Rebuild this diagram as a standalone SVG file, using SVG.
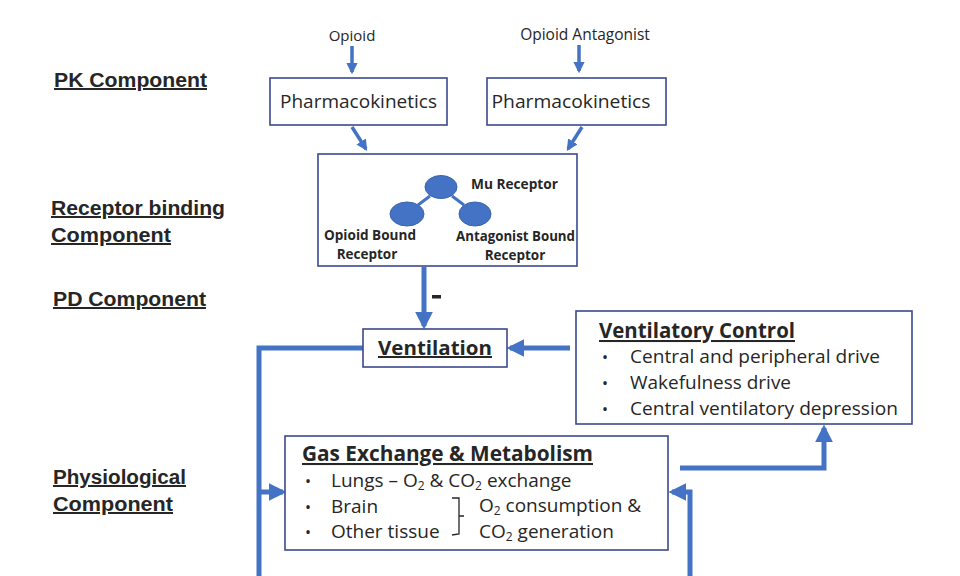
<svg xmlns="http://www.w3.org/2000/svg" width="960" height="576" viewBox="0 0 960 576">
<style>
.box{fill:#fff;stroke:#3b4a8c;stroke-width:1.6}
.t{font-family:"Open Sans","Noto Sans",sans-serif;fill:#262626}
.lbl{font-family:"Liberation Sans",Arial,sans-serif;font-weight:bold;fill:#262626;font-size:20px;text-decoration:underline}
.b{font-weight:bold}
.thin{stroke:#4472c4;stroke-width:3.5;fill:none}
.thick{stroke:#4472c4;stroke-width:5;fill:none}
.ell{fill:#4472c4;stroke:#3a63ad;stroke-width:1}
</style>
<defs>
<marker id="ah" viewBox="0 0 10 10" refX="8" refY="5" markerWidth="3.2" markerHeight="3.2" orient="auto" markerUnits="strokeWidth"><path d="M0,0 L10,5 L0,10 z" fill="#4472c4"/></marker>
<marker id="ahT" viewBox="0 0 10 10" refX="8" refY="5" markerWidth="3.6" markerHeight="3.6" orient="auto" markerUnits="strokeWidth"><path d="M0,0 L10,5 L0,10 z" fill="#4472c4"/></marker>
</defs>
<rect width="960" height="576" fill="#fff"/>

<g id="labels">
<text class="lbl" x="54" y="87" textLength="153" lengthAdjust="spacingAndGlyphs">PK Component</text>
<text class="lbl" x="51" y="215" textLength="174" lengthAdjust="spacingAndGlyphs">Receptor binding</text>
<text class="lbl" x="51" y="242" textLength="120" lengthAdjust="spacingAndGlyphs">Component</text>
<text class="lbl" x="53" y="306" textLength="153" lengthAdjust="spacingAndGlyphs">PD Component</text>
<text class="lbl" x="53" y="484" textLength="133" lengthAdjust="spacingAndGlyphs">Physiological</text>
<text class="lbl" x="53" y="511" textLength="120" lengthAdjust="spacingAndGlyphs">Component</text>
</g>

<g id="inputs">
<text class="t" x="352" y="41" font-size="15" text-anchor="middle">Opioid</text>
<text class="t" x="585" y="40" font-size="15.5" text-anchor="middle">Opioid Antagonist</text>
</g>

<g id="connectors">
<line class="thin" x1="352" y1="46" x2="352" y2="72" marker-end="url(#ah)"/>
<line class="thin" x1="579" y1="45" x2="579" y2="71" marker-end="url(#ah)"/>
<line class="thin" x1="352" y1="127" x2="366" y2="149" marker-end="url(#ah)"/>
<line class="thin" x1="582" y1="127" x2="568" y2="149" marker-end="url(#ah)"/>
<line class="thick" x1="424" y1="267" x2="424" y2="326" marker-end="url(#ahT)"/>
<polyline class="thick" points="363,348 259,348 259,576"/>
<line class="thick" x1="259" y1="492" x2="283" y2="492" marker-end="url(#ahT)"/>
<line class="thick" x1="570" y1="348" x2="510" y2="348" marker-end="url(#ahT)"/>
<polyline class="thick" points="680,468 824,468 824,428" marker-end="url(#ahT)"/>
<polyline class="thick" points="690,576 690,492 672,492" marker-end="url(#ahT)"/>
<rect x="432" y="295" width="9" height="3.5" fill="#262626"/>
</g>

<g id="pk1">
<rect class="box" x="270" y="78" width="177" height="47"/>
<text class="t" x="358.5" y="108" font-size="18.5" text-anchor="middle" textLength="157" lengthAdjust="spacingAndGlyphs">Pharmacokinetics</text>
</g>
<g id="pk2">
<rect class="box" x="487" y="78" width="179" height="47"/>
<text class="t" x="571" y="108" font-size="18.5" text-anchor="middle" textLength="159" lengthAdjust="spacingAndGlyphs">Pharmacokinetics</text>
</g>

<g id="receptor">
<rect class="box" x="318" y="154" width="259" height="112"/>
<line x1="430" y1="196" x2="418" y2="205" stroke="#4472c4" stroke-width="3"/>
<line x1="452" y1="196" x2="464" y2="205" stroke="#4472c4" stroke-width="3"/>
<ellipse class="ell" cx="441" cy="187" rx="16" ry="11.5"/>
<ellipse class="ell" cx="407" cy="214" rx="17" ry="12"/>
<ellipse class="ell" cx="475" cy="214" rx="16" ry="12"/>
<text class="t b" x="471" y="189" font-size="13.5" textLength="87" lengthAdjust="spacingAndGlyphs">Mu Receptor</text>
<text class="t b" x="370" y="240" font-size="13.5" text-anchor="middle" textLength="92" lengthAdjust="spacingAndGlyphs">Opioid Bound</text>
<text class="t b" x="367" y="259" font-size="13.5" text-anchor="middle">Receptor</text>
<text class="t b" x="515.5" y="241" font-size="13.5" text-anchor="middle" textLength="119" lengthAdjust="spacingAndGlyphs">Antagonist Bound</text>
<text class="t b" x="515" y="260" font-size="13.5" text-anchor="middle">Receptor</text>
</g>

<g id="ventilation">
<rect class="box" x="363" y="329" width="144" height="38"/>
<text class="t b" x="435" y="355" font-size="20" text-anchor="middle" text-decoration="underline" textLength="114" lengthAdjust="spacingAndGlyphs">Ventilation</text>
</g>

<g id="ventilatory-control">
<rect class="box" x="576" y="311" width="336" height="113"/>
<text class="t b" x="599" y="338" font-size="20.5" text-decoration="underline" textLength="196" lengthAdjust="spacingAndGlyphs">Ventilatory Control</text>
<text class="t" x="602" y="363" font-size="16">•</text>
<text class="t" x="630" y="363" font-size="18.5" textLength="250" lengthAdjust="spacingAndGlyphs">Central and peripheral drive</text>
<text class="t" x="602" y="389" font-size="16">•</text>
<text class="t" x="630" y="389" font-size="18.5" textLength="161" lengthAdjust="spacingAndGlyphs">Wakefulness drive</text>
<text class="t" x="602" y="415" font-size="16">•</text>
<text class="t" x="630" y="415" font-size="18.5" textLength="268" lengthAdjust="spacingAndGlyphs">Central ventilatory depression</text>
</g>

<g id="gas-exchange">
<rect class="box" x="285" y="436" width="383" height="114"/>
<text class="t b" x="302" y="461" font-size="20.5" text-decoration="underline" textLength="291" lengthAdjust="spacingAndGlyphs">Gas Exchange &amp; Metabolism</text>
<text class="t" x="305" y="487" font-size="16">•</text>
<text class="t" x="331" y="487" font-size="19">Lungs – O<tspan font-size="12" dy="3">2</tspan><tspan dy="-3"> &amp; CO</tspan><tspan font-size="12" dy="3">2</tspan><tspan dy="-3"> exchange</tspan></text>
<text class="t" x="305" y="513" font-size="16">•</text>
<text class="t" x="331" y="513" font-size="19">Brain</text>
<text class="t" x="305" y="538" font-size="16">•</text>
<text class="t" x="331" y="538" font-size="19">Other tissue</text>
<path d="M452,498 L459,498 L459,534 L452,535 M459,516 L464,516" fill="none" stroke="#262626" stroke-width="1.3"/>
<text class="t" x="479" y="512" font-size="19">O<tspan font-size="12" dy="3">2</tspan><tspan dy="-3"> consumption &amp;</tspan></text>
<text class="t" x="479" y="538" font-size="19">CO<tspan font-size="12" dy="3">2</tspan><tspan dy="-3"> generation</tspan></text>
</g>
</svg>
